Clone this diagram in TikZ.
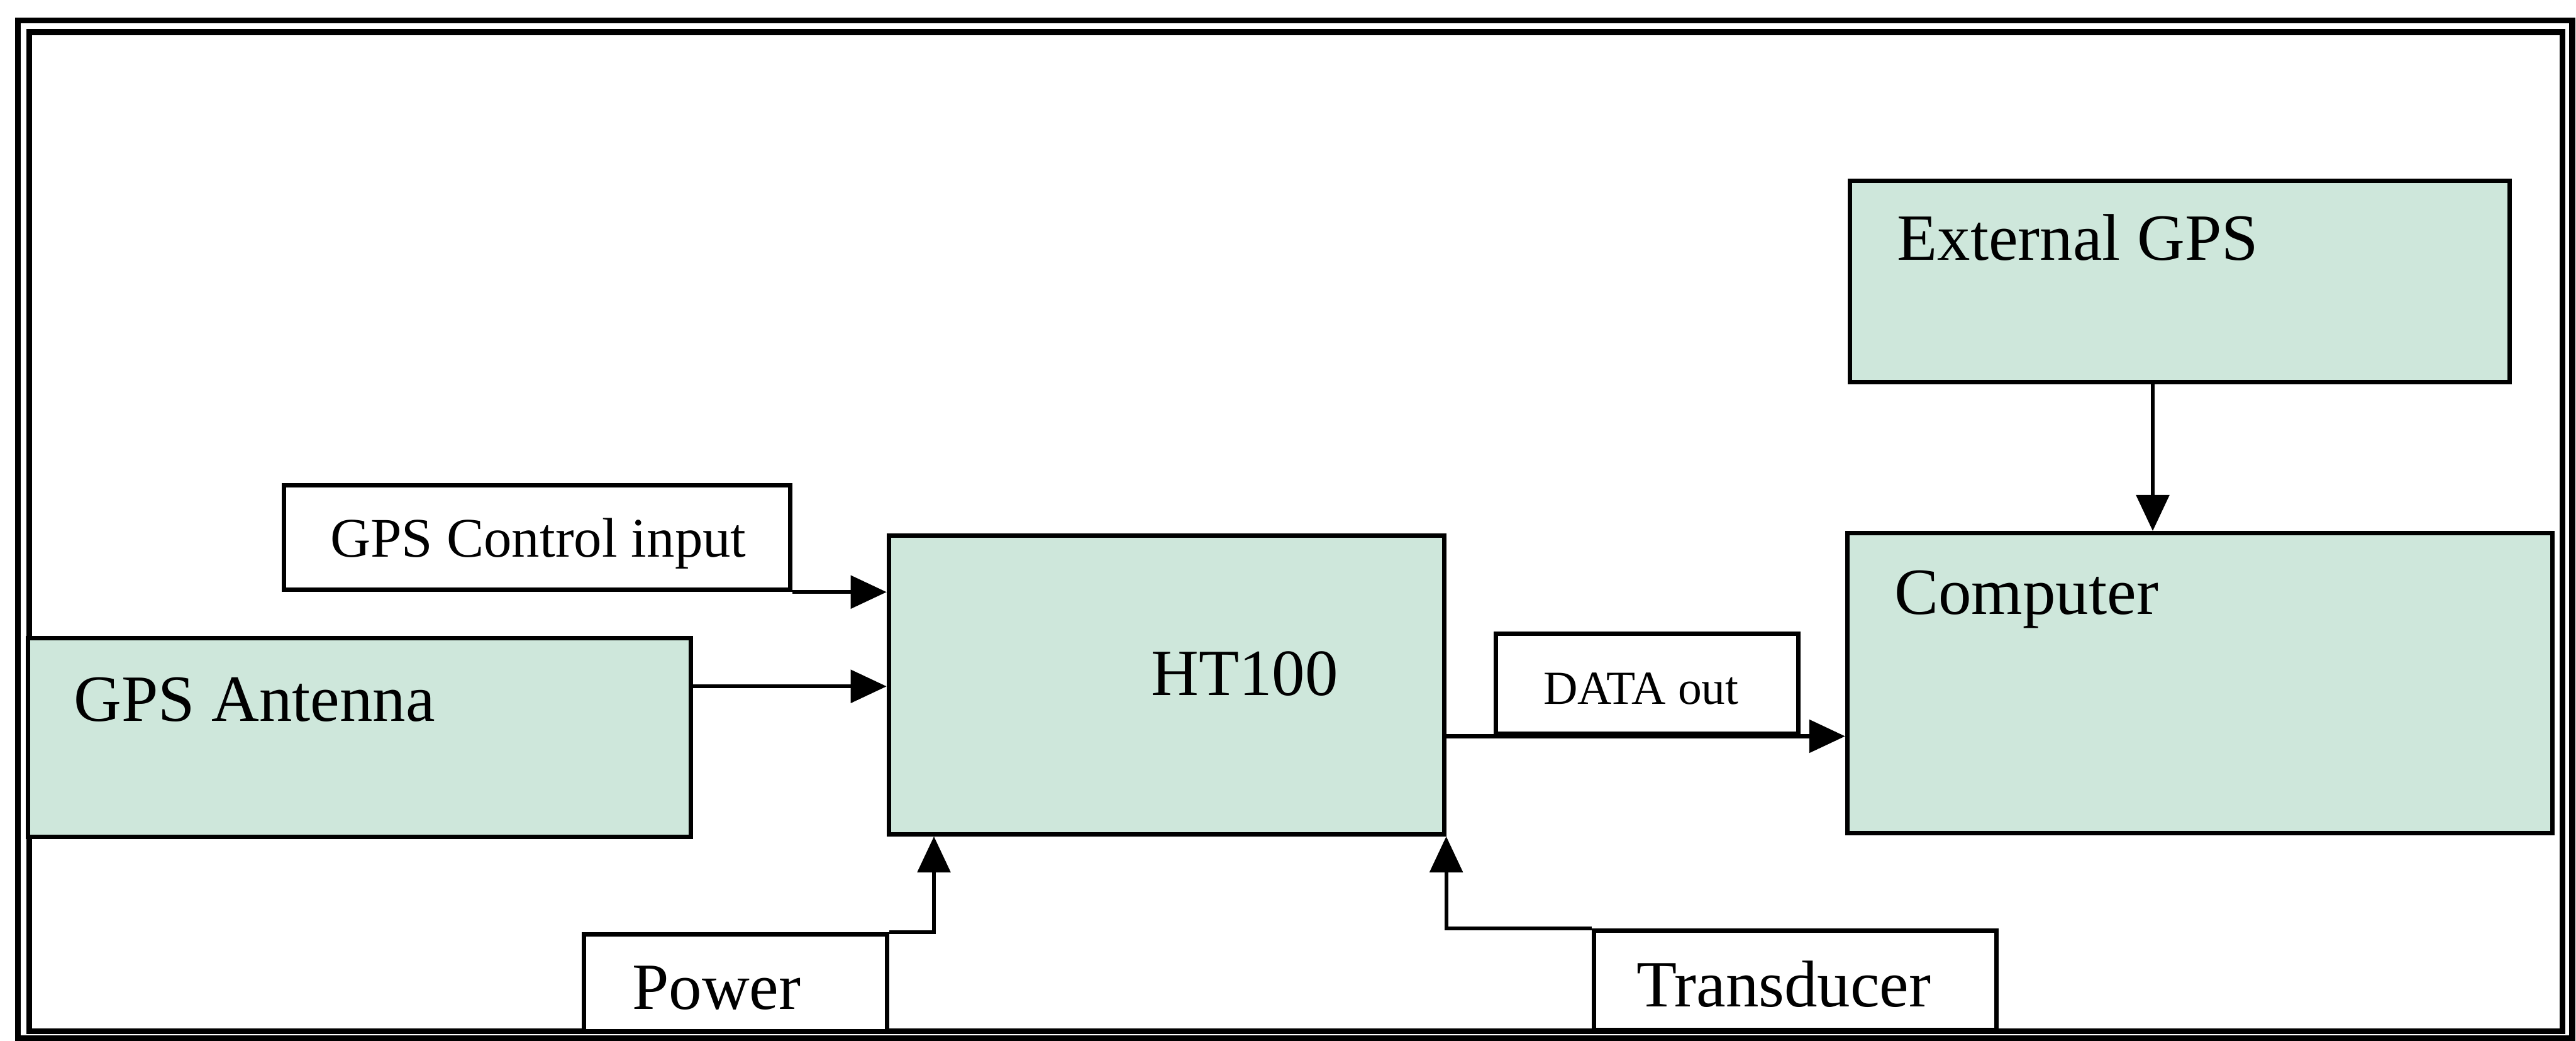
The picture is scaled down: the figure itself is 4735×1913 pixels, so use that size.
\documentclass[tikz,border=0pt]{standalone}
\usepackage{fontspec}
\setmainfont{Liberation Serif}
\usetikzlibrary{arrows.meta}
\definecolor{boxgreen}{RGB}{206,231,219}
\begin{document}
\begin{tikzpicture}[x=0.01cm, y=-0.01cm, line width=2.3pt,
    >={Triangle[length=0.66cm, width=0.6cm]},
    greenbox/.style={draw, fill=boxgreen, inner sep=0pt},
    whitebox/.style={draw, fill=white, inner sep=0pt},
    biglbl/.style={font=\fontsize{34.5}{40}\selectfont, inner sep=0pt},
    arr/.style={->, line width=2pt}]
    \useasboundingbox (0,0) rectangle (4735,1913);

    % Double frame
    \draw[line width=3pt] (33,38) rectangle (4728,1908);
    \draw[line width=3pt] (54,59) rectangle (4710,1895);

    % Input side
    \node[whitebox, minimum width=9.30cm, minimum height=1.92cm] (ctrl) at (987,988) {};
    \node[font=\fontsize{29.2}{34}\selectfont, inner sep=0pt, anchor=base west] (ctrllbl) at (603,1024) {GPS Control input};
    \node[greenbox, minimum width=12.17cm, minimum height=3.65cm] (ant) at (660.5,1355.5) {};
    \node[biglbl, anchor=base west] (antlbl) at (132,1325) {GPS Antenna};

    % Main unit
    \node[greenbox, minimum width=10.20cm, minimum height=5.49cm] (ht) at (2144,1258.5) {};
    \node[biglbl, anchor=base] (htlbl) at (2288,1278) {HT100};

    % Bottom inputs
    \node[whitebox, minimum width=5.57cm, minimum height=1.78cm] (pow) at (1351.5,1806) {};
    \node[biglbl, anchor=base west] (powlbl) at (1158,1855) {Power};
    \node[whitebox, minimum width=7.40cm, minimum height=1.83cm] (trn) at (3300,1801.5) {};
    \node[biglbl, anchor=base west] (trnlbl) at (3004,1850) {Transducer};

    % Output side
    \node[whitebox, minimum width=5.55cm, minimum height=1.84cm] (dout) at (3027.5,1257) {};
    \node[font=\fontsize{24.8}{29}\selectfont, inner sep=0pt, anchor=base west] (doutlbl) at (2833,1294) {DATA out};
    \node[greenbox, minimum width=12.95cm, minimum height=5.51cm] (comp) at (4043.5,1255.5) {};
    \node[biglbl, anchor=base west] (complbl) at (3478,1129) {Computer};
    \node[greenbox, minimum width=12.12cm, minimum height=3.69cm] (ext) at (4007,517.5) {};
    \node[biglbl, anchor=base west] (extlbl) at (3483,478) {External GPS};

    % Arrows
    \coordinate (antout) at ([yshift=0.94cm]ant.east);
    \coordinate (powup) at ([xshift=0.87cm]ht.south west);
    \coordinate (extout) at ([xshift=-0.5cm]ext.south);
    \draw[arr] (ctrl.south east) -- (ctrl.south east -| ht.west);
    \draw[arr] (antout) -- (antout -| ht.west);
    \draw[arr] (pow.north east) -| (powup);
    \draw[arr] (trn.north west) -| (ht.south east);
    \draw[arr] (ht.east |- dout.south) -- (comp.west |- dout.south);
    \draw[arr] (extout) -- (extout |- comp.north);
\end{tikzpicture}
\end{document}
